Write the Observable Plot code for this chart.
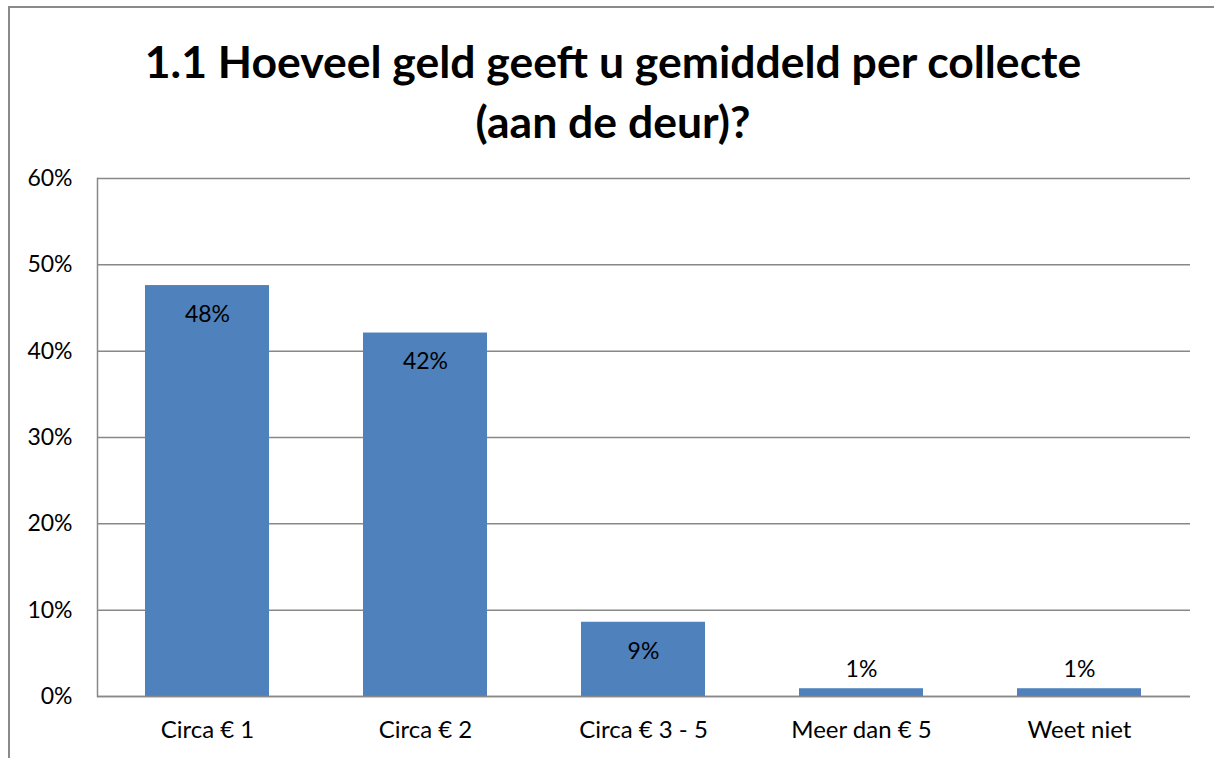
<!DOCTYPE html>
<html>
<head>
<meta charset="utf-8">
<script src="https://cdn.jsdelivr.net/npm/d3@7"></script>
<script src="https://cdn.jsdelivr.net/npm/@observablehq/plot@0.6"></script>
<style>
  html, body { margin: 0; padding: 0; background: #fff; width: 1214px; height: 758px; overflow: hidden; }
  #frame { position: absolute; left: 8px; top: 6px; width: 1230px; height: 800px; border: 2px solid #8a8a8a; box-sizing: border-box; }
  #title { position: absolute; left: 0; top: 31px; width: 1226px; text-align: center; font-family: Lato, sans-serif; font-weight: 700; font-size: 44.5px; line-height: 60px; color: #000; }
  #chart { position: absolute; left: 0; top: 0; }
</style>
</head>
<body>
<div id="frame"></div>
<div id="title">1.1 Hoeveel geld geeft u gemiddeld per collecte<br>(aan de deur)?</div>
<div id="chart"></div>
<script>
const categories = ["Circa € 1", "Circa € 2", "Circa € 3 - 5", "Meer dan € 5", "Weet niet"];
const values = [47.6, 42.1, 8.6, 0.9, 0.9];
const yTicks = [0, 10, 20, 30, 40, 50, 60];

const data = categories.map((c, i) => ({ cat: c, v: values[i], label: Math.round(values[i]) + "%" }));
const font = "Lato, sans-serif";

const plot = Plot.plot({
  width: 1214,
  height: 758,
  marginLeft: 97,
  marginRight: 24,
  marginTop: 178,
  marginBottom: 62,
  style: { fontFamily: font, fontSize: "23px", color: "#000", background: "transparent" },
  x: { domain: categories, paddingInner: 0.43, paddingOuter: 0.215, label: null },
  y: { domain: [0, 60], label: null },
  marks: [
    Plot.gridY(yTicks, { stroke: "#888", strokeOpacity: 1, strokeWidth: 1.5 }),
    Plot.barY(data, { x: "cat", y: "v", fill: "#4F81BD" }),
    Plot.frame({ anchor: "left", stroke: "#888", strokeWidth: 1.5 }),
    Plot.ruleY([0], { stroke: "#888", strokeWidth: 1.5 }),
    Plot.axisY(yTicks, { tickSize: 0, tickPadding: 25, tickFormat: d => d + "%", fontSize: 23, label: null }),
    Plot.axisX({ tickSize: 0, tickPadding: 24, fontSize: 24, label: null }),
    Plot.text(data.filter(d => d.v > 5), { x: "cat", y: "v", text: "label", dy: 29, fontSize: 23, fill: "#000" }),
    Plot.text(data.filter(d => d.v <= 5), { x: "cat", y: "v", text: "label", dy: -19, fontSize: 23, fill: "#000" })
  ]
});
document.getElementById("chart").appendChild(plot);
</script>
</body>
</html>
